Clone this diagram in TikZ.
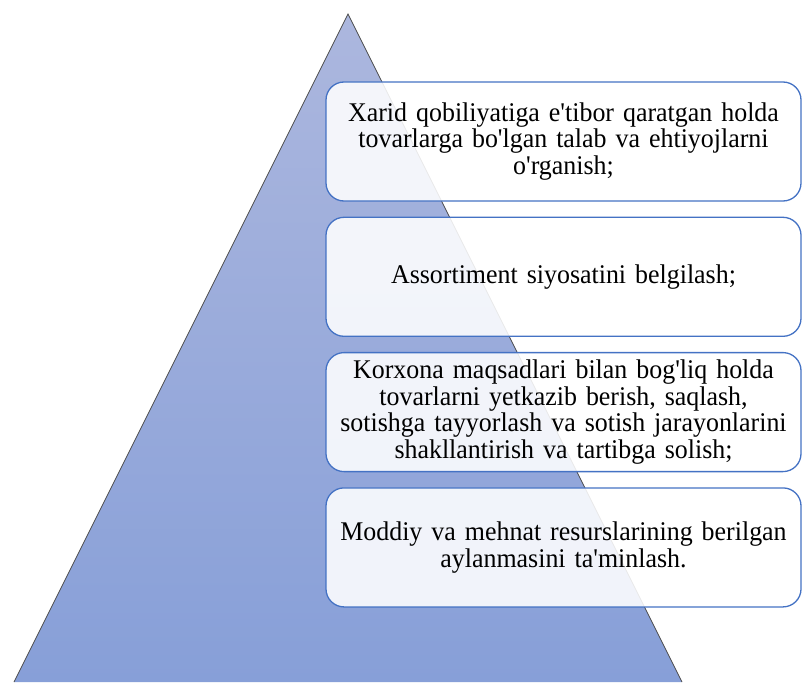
\documentclass[tikz,border=0pt]{standalone}
\usepackage{fontspec}
\newfontfamily\uzfont[FakeStretch=0.96]{Liberation Serif}
\usetikzlibrary{positioning}
\definecolor{pyrtop}{RGB}{172,183,222}
\definecolor{pyrbot}{RGB}{135,159,216}
\definecolor{boxline}{RGB}{68,114,196}
\tikzset{goalbox/.style={draw=boxline,line width=1.3pt,fill=white,fill opacity=0.88,text opacity=1,
  rounded corners=18pt,minimum width=475pt,minimum height=119pt,text width=473pt,align=center,
  inner sep=0pt,font=\uzfont\fontsize{27}{26.8}\selectfont}}

\begin{document}
\begin{tikzpicture}[x=1pt,y=-1pt]
				\useasboundingbox (0,0) rectangle (802,682);
				% pyramid
				\shade[top color=pyrtop,bottom color=pyrbot] (14,682) -- (348,14) -- (682,682) -- cycle;
				\draw[gray!60!black,line width=0.8pt] (14,682) -- (348,14) -- (682,682);
				% goal boxes
				\node[goalbox] (goal1) at (563.5,141.5) {Xarid qobiliyatiga e'tibor qaratgan holda\\ tovarlarga bo'lgan talab va ehtiyojlarni\\ o'rganish;};
				\node[goalbox,below=15pt of goal1] (goal2) {Assortiment siyosatini belgilash;};
				\node[goalbox,below=15pt of goal2] (goal3) {Korxona maqsadlari bilan bog'liq holda\\ tovarlarni yetkazib berish, saqlash,\\ sotishga tayyorlash va sotish jarayonlarini\\ shakllantirish va tartibga solish;};
				\node[goalbox,below=15pt of goal3] (goal4) {Moddiy va mehnat resurslarining berilgan\\ aylanmasini ta'minlash.};
\end{tikzpicture}
\end{document}
